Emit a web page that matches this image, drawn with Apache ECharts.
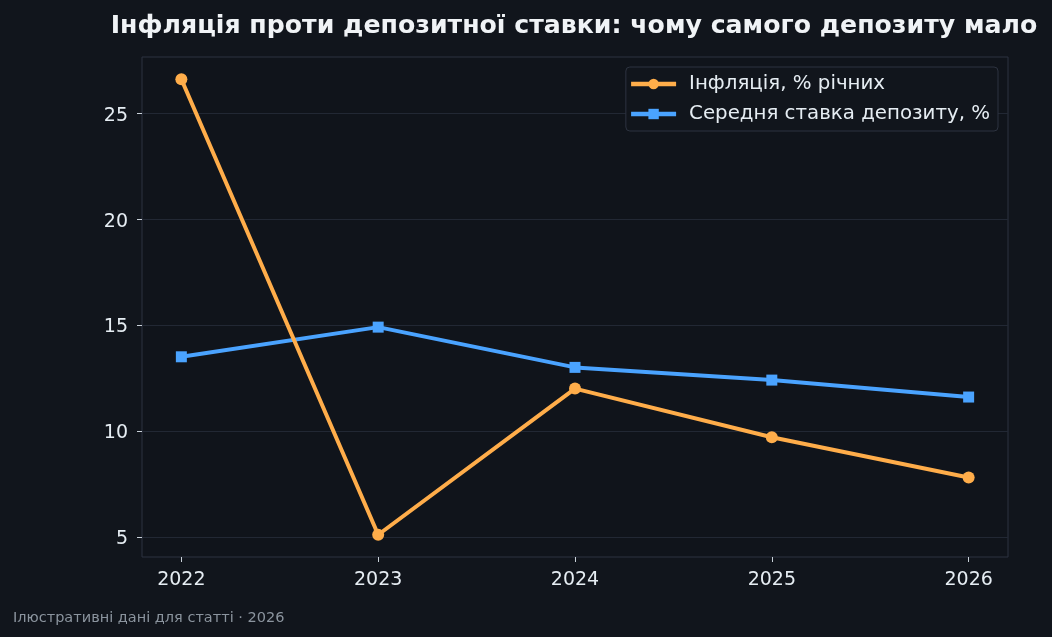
<!DOCTYPE html>
<html><head><meta charset="utf-8">
<script src="https://cdn.jsdelivr.net/npm/echarts@6/dist/echarts.min.js"></script>
<style>html,body{margin:0;padding:0;background:#11151c;}#c{width:1052px;height:637px;}</style>
</head><body><div id="c"></div>
<script>
const years = [2022, 2023, 2024, 2025, 2026];
const inflation = [26.6, 5.1, 12.0, 9.7, 7.8];
const deposit = [13.5, 14.9, 13.0, 12.4, 11.6];
const yTicks = [5, 10, 15, 20, 25];
const chart = echarts.init(document.getElementById('c'));
const font = 'DejaVu Sans';
chart.setOption({
  backgroundColor: '#11151c',
  animation: false,
  title: [{
    text: 'Інфляція проти депозитної ставки: чому самого депозиту мало',
    left: 569, top: 9, textAlign: 'center',
    textStyle: {color: '#f0f3f6', fontFamily: font, fontWeight: 'bold', fontSize: 25.2}
  }, {
    text: 'Ілюстративні дані для статті · 2026',
    left: 8, top: 606,
    textStyle: {color: '#8b949e', fontFamily: font, fontWeight: 'normal', fontSize: 14.5}
  }],
  legend: {
    right: 54, top: 67, orient: 'vertical', itemGap: 10,
    backgroundColor: '#11151c', borderColor: '#2d3340', borderWidth: 1, borderRadius: 4,
    padding: [7, 8, 7, 3], itemWidth: 45, itemHeight: 13,
    lineStyle: {width: 4.5},
    textStyle: {color: '#e6edf3', fontFamily: font, fontSize: 19.8, padding: [0, 0, 0, 8]},
    data: ['Інфляція, % річних', 'Середня ставка депозиту, %']
  },
  grid: {left: 142, right: 44, top: 57, bottom: 80, show: true, backgroundColor: '#10141b', borderColor: '#2d3340', borderWidth: 1},
  xAxis: {
    type: 'value', min: 2021.8, max: 2026.2,
    axisLine: {show: false}, splitLine: {show: false},
    axisTick: {show: true, length: 5, lineStyle: {color: '#c9d1d9'}, customValues: years},
    axisLabel: {color: '#e6edf3', fontFamily: font, fontSize: 19, margin: 14, customValues: years, formatter: v => String(v)}
  },
  yAxis: {
    type: 'value', min: 4.05, max: 27.65,
    axisLine: {show: false},
    splitLine: {show: true, lineStyle: {color: '#222834', width: 1}},
    axisTick: {show: true, length: 5, lineStyle: {color: '#c9d1d9'}, customValues: yTicks},
    axisLabel: {
      color: '#e6edf3', fontFamily: font, fontSize: 19, margin: 14, customValues: yTicks,
      formatter: v => '{a|' + v + '}',
      rich: {a: {color: '#e6edf3', fontFamily: font, fontSize: 19, padding: [5, 0, 0, 0]}}
    }
  },
  series: [{
    name: 'Інфляція, % річних', type: 'line',
    data: years.map((y, i) => [y, inflation[i]]),
    symbol: 'circle', symbolSize: 12,
    lineStyle: {color: '#ffad4a', width: 4},
    itemStyle: {color: '#ffad4a'}, z: 3
  }, {
    name: 'Середня ставка депозиту, %', type: 'line',
    data: years.map((y, i) => [y, deposit[i]]),
    symbol: 'rect', symbolSize: 11,
    lineStyle: {color: '#4aa3ff', width: 4},
    itemStyle: {color: '#4aa3ff'}, z: 2
  }]
});
</script></body></html>
